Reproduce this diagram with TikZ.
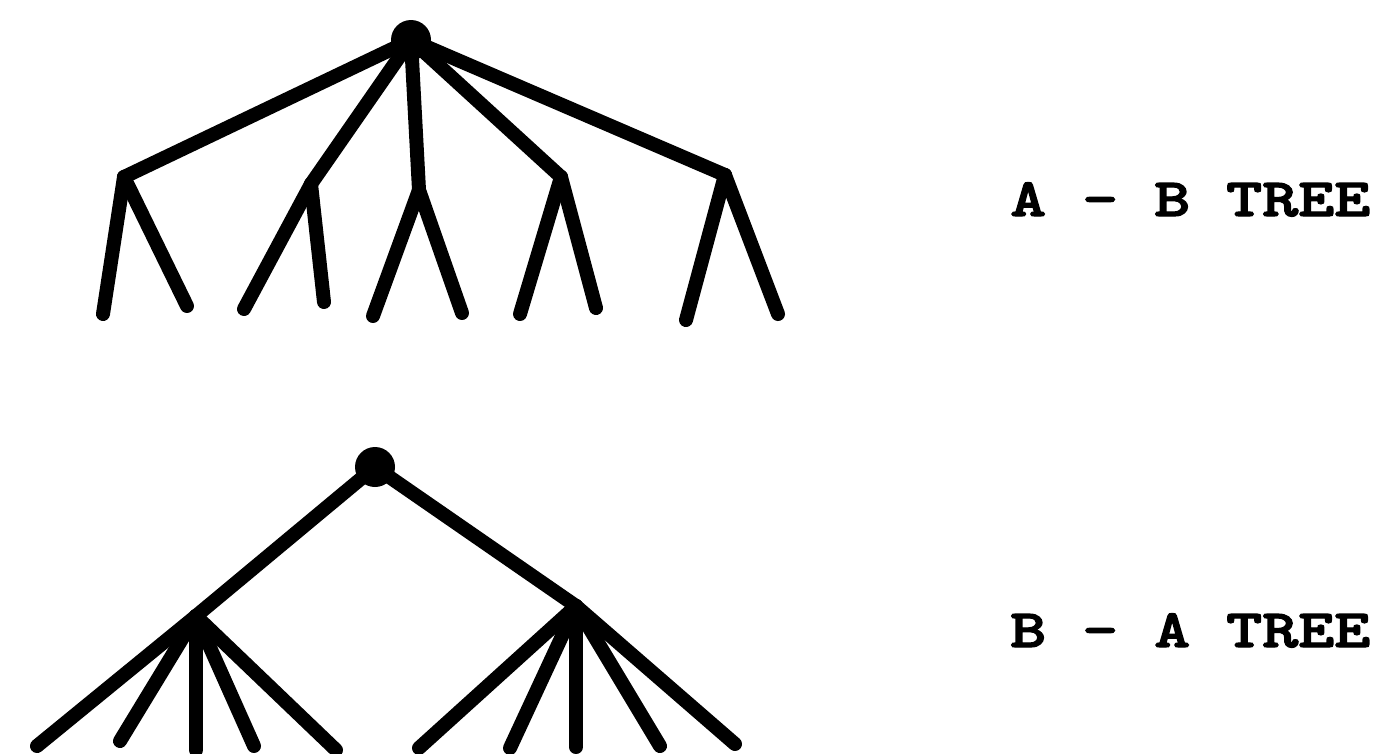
\documentclass[tikz,border=0pt]{standalone}
\usepackage{graphicx}
\usepackage{fontspec}
\newfontfamily\lblfont{lmmonolt10-bold.otf}[FakeBold=2]
\begin{document}
\begin{tikzpicture}[x=1pt,y=-1pt,
  branch/.style={line width=14pt, line cap=round, line join=round},
  rootdot/.style={circle, fill=black, inner sep=0pt, minimum size=40pt},
  lbl/.style={anchor=base west, inner sep=0pt}]
\newcommand{\treelabel}[1]{\scalebox{1.27}[1]{\lblfont\fontsize{54}{54}\selectfont #1}}
\useasboundingbox (0,0) rectangle (1375,753);
% ---- A - B tree ----
\node[rootdot] (r1) at (411,40) {};
\coordinate (a1) at (124,177);
\coordinate (a2) at (311,184);
\coordinate (a3) at (419,190);
\coordinate (a4) at (561,177);
\coordinate (a5) at (725,175);
\coordinate (a1l) at (103,314); \coordinate (a1r) at (187,306);
\coordinate (a2l) at (244,309); \coordinate (a2r) at (324,302);
\coordinate (a3l) at (373,316); \coordinate (a3r) at (462,313);
\coordinate (a4l) at (520,314); \coordinate (a4r) at (596,308);
\coordinate (a5l) at (686,320); \coordinate (a5r) at (778,314);
\foreach \c in {a1,a2,a3,a4,a5} {
  \draw[branch] (r1.center) -- (\c);
  \draw[branch] (\c) -- (\c l);
  \draw[branch] (\c) -- (\c r);
}
\node[lbl] (t1) at (1010,216) {\treelabel{A - B TREE}};
% ---- B - A tree ----
\node[rootdot] (r2) at (375,467) {};
\coordinate (b1) at (196,616);
\coordinate (b2) at (576,606);
\coordinate (b11) at (37,746);  \coordinate (b12) at (120,741);
\coordinate (b13) at (196,750); \coordinate (b14) at (254,746);
\coordinate (b15) at (336,750);
\coordinate (b21) at (419,748); \coordinate (b22) at (510,748);
\coordinate (b23) at (576,747); \coordinate (b24) at (660,746);
\coordinate (b25) at (735,744);
\draw[branch] (r2.center) -- (b1);
\draw[branch] (r2.center) -- (b2);
\foreach \p in {b1,b2} {
  \foreach \k in {1,...,5} {
    \draw[branch] (\p) -- (\p\k);
  }
}
\node[lbl] (t2) at (1010,647) {\treelabel{B - A TREE}};
\end{tikzpicture}
\end{document}
